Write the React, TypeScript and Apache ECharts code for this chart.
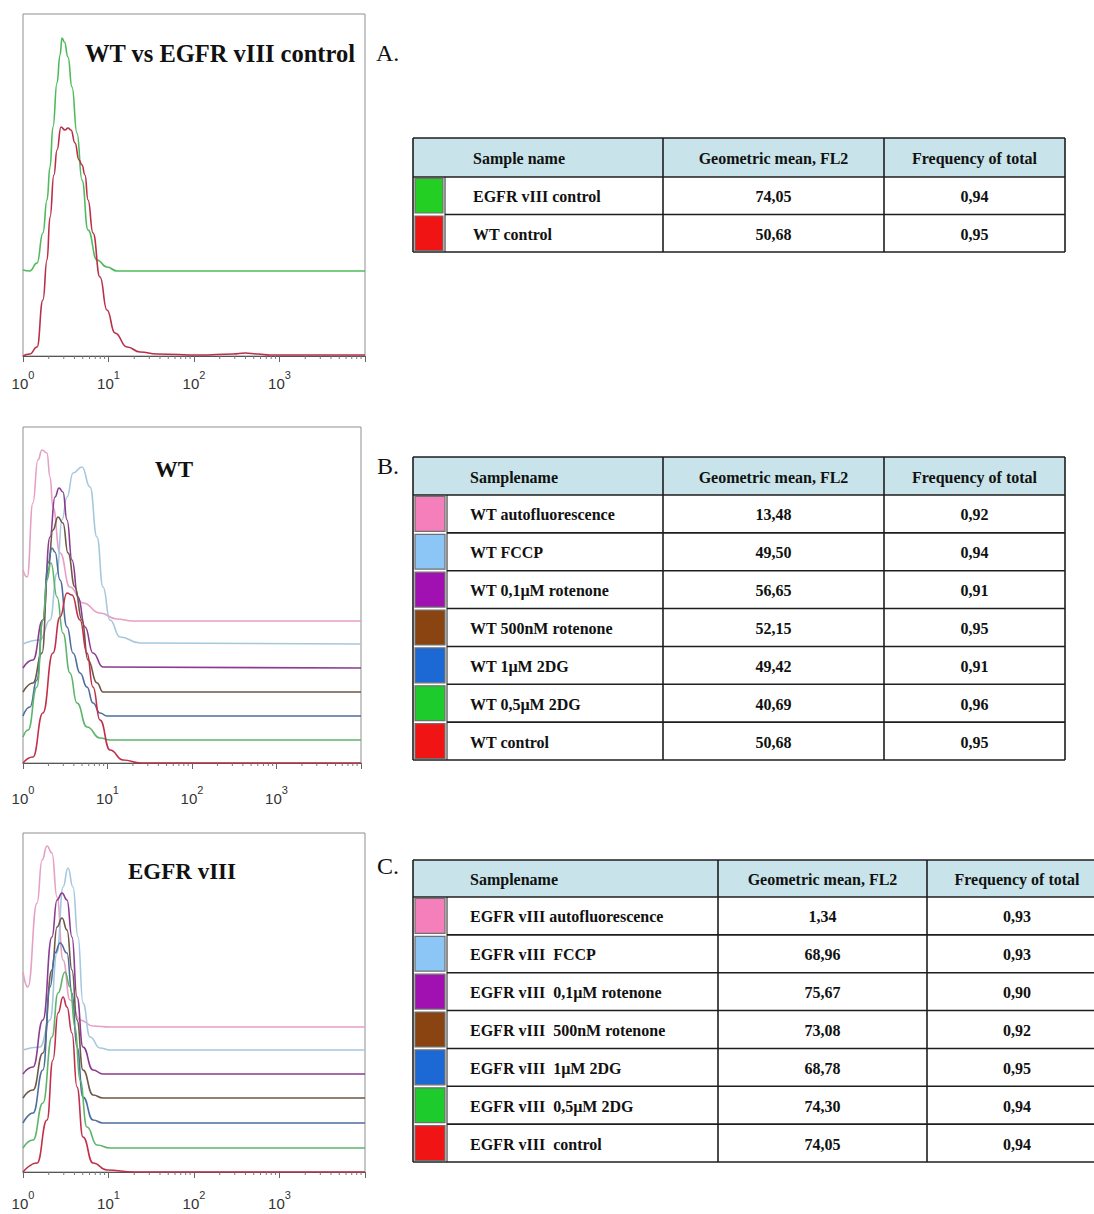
import React, { useEffect, useRef } from "react";
import * as echarts from "echarts";

const SERIF = '"Liberation Serif", "Times New Roman", serif';
const SANS = '"Liberation Sans", Arial, sans-serif';

// minor log ticks on the FL2 axis
const minorTicks = [2, 3, 4, 5, 6, 7, 8, 9, 20, 30, 40, 50, 60, 70, 80, 90, 200, 300, 400, 500, 600, 700, 800, 900, 2000, 3000, 4000, 5000, 6000, 7000, 8000, 9000];

// ---------- Panel A: WT vs EGFR vIII control (offset histograms, counts) ----------
const aEgfrControl = [[1, 86], [1.2, 85], [1.46, 93], [1.71, 123], [1.91, 156], [2.07, 189], [2.24, 229], [2.5, 273], [2.71, 301], [2.86, 318], [3.05, 314], [3.36, 299], [3.74, 269], [4.28, 223], [4.9, 176], [5.76, 126], [7.34, 96], [9.6, 89], [12.6, 85], [10000, 85]];
const aWtControl = [[1, 0], [1.2, 2], [1.46, 9], [1.71, 56], [1.91, 96], [2.07, 139], [2.3, 181], [2.5, 206], [2.78, 229], [3.1, 226], [3.36, 228], [3.64, 226], [4.06, 213], [4.52, 196], [4.9, 191], [5.31, 181], [5.76, 156], [6.59, 123], [7.95, 79], [9.6, 46], [11.9, 23], [16.5, 9], [23.4, 4], [36.9, 2], [117, 1], [286, 2], [395, 3], [561, 2], [774, 1], [10000, 1]];

// ---------- Panel B: WT ----------
const bAuto = [[1, 193], [1.12, 186], [1.31, 260], [1.5, 303], [1.68, 313], [1.92, 310], [2.09, 286], [2.26, 256], [2.74, 210], [3.6, 176], [5.13, 160], [8.15, 150], [12.9, 144], [20, 142], [10000, 142]];
const bFccp = [[1, 119], [1.59, 123], [2.09, 143], [2.53, 190], [2.89, 243], [3.32, 266], [3.91, 290], [4.99, 296], [6.21, 276], [7.51, 226], [8.85, 176], [10.7, 143], [14.1, 126], [24.2, 120], [10000, 119]];
const bRot01 = [[1, 95], [1.31, 103], [1.72, 143], [2.09, 226], [2.39, 266], [2.67, 275], [2.97, 271], [3.32, 243], [3.8, 203], [4.48, 166], [5.42, 136], [6.73, 110], [8.85, 96], [10000, 95]];
const bRot500 = [[1, 71], [1.31, 80], [1.68, 110], [1.98, 193], [2.26, 233], [2.6, 246], [2.97, 240], [3.41, 210], [4.12, 176], [4.99, 143], [5.88, 103], [7.51, 80], [8.85, 71], [10000, 71]];
const b2dg1 = [[1, 47], [1.21, 56], [1.46, 83], [1.72, 143], [1.98, 200], [2.2, 215], [2.39, 211], [2.74, 183], [3.32, 136], [3.91, 110], [4.73, 90], [5.72, 76], [6.73, 60], [8.15, 50], [9.86, 47], [10000, 47]];
const b2dg05 = [[1, 26], [1.15, 33], [1.46, 76], [1.72, 143], [1.92, 183], [2.14, 200], [2.53, 166], [2.97, 130], [3.6, 90], [4.35, 60], [5.72, 36], [8.15, 25], [10.7, 23], [10000, 23]];
const bControl = [[1, 0], [1.31, 6], [1.72, 50], [2.26, 110], [2.74, 146], [3.32, 170], [3.8, 168], [4.73, 143], [5.72, 110], [6.73, 76], [8.15, 43], [10.7, 13], [15.3, 3], [25, 0], [10000, 0]];

// ---------- Panel C: EGFR vIII ----------
const cAuto = [[1, 200], [1.14, 185], [1.46, 269], [1.67, 312], [1.91, 326], [2.18, 319], [2.5, 275], [2.94, 212], [3.55, 172], [4.64, 152], [6.59, 146], [10.4, 145], [10000, 145]];
const cFccp = [[1, 122], [1.58, 125], [2.07, 152], [2.5, 219], [2.94, 285], [3.36, 304], [3.84, 285], [4.4, 235], [5.03, 169], [6.08, 135], [7.95, 124], [10.4, 122], [10000, 122]];
const cRot01 = [[1, 98], [1.31, 105], [1.71, 152], [2.18, 235], [2.5, 272], [2.86, 279], [3.27, 272], [3.74, 235], [4.28, 175], [5.03, 125], [6.59, 102], [8.62, 98], [10000, 98]];
const cRot500 = [[1, 74], [1.31, 82], [1.71, 119], [2.18, 202], [2.5, 245], [2.86, 254], [3.27, 242], [3.74, 202], [4.28, 152], [5.03, 102], [6.59, 77], [8.62, 74], [10000, 74]];
const c2dg1 = [[1, 49], [1.31, 59], [1.71, 102], [2.07, 185], [2.37, 219], [2.71, 229], [3.27, 219], [3.74, 179], [4.28, 125], [5.03, 75], [6.59, 52], [8.62, 49], [10000, 49]];
const c2dg05 = [[1, 24], [1.31, 32], [1.71, 69], [2.18, 135], [2.57, 179], [3.1, 200], [3.55, 185], [4.06, 145], [4.64, 92], [5.6, 45], [7.34, 27], [10.4, 24], [10000, 24]];
const cControl = [[1, 0], [1.46, 9], [1.91, 52], [2.24, 112], [2.57, 159], [2.94, 175], [3.27, 165], [3.74, 139], [4.28, 85], [5.03, 35], [6.59, 9], [9.6, 2], [20, 0], [10000, 0]];

// ---------- Tables ----------
const headers = ["Geometric mean, FL2", "Frequency of total"];

const tableANames = ["EGFR vIII control", "WT control"];
const tableAColors = ["#22cf22", "#f11414"];
const tableAMeans = ["74,05", "50,68"];
const tableAFreqs = ["0,94", "0,95"];

const tableBNames = ["WT autofluorescence", "WT FCCP", "WT 0,1µM rotenone", "WT 500nM rotenone", "WT 1µM 2DG", "WT 0,5µM 2DG", "WT control"];
const tableBColors = ["#f47fba", "#8cc6f7", "#a111b1", "#8a4412", "#1c69d6", "#1dcb2c", "#f11414"];
const tableBMeans = ["13,48", "49,50", "56,65", "52,15", "49,42", "40,69", "50,68"];
const tableBFreqs = ["0,92", "0,94", "0,91", "0,95", "0,91", "0,96", "0,95"];

const tableCNames = ["EGFR vIII autofluorescence", "EGFR vIII  FCCP", "EGFR vIII  0,1µM rotenone", "EGFR vIII  500nM rotenone", "EGFR vIII  1µM 2DG", "EGFR vIII  0,5µM 2DG", "EGFR vIII  control"];
const tableCColors = ["#f47fba", "#8cc6f7", "#a111b1", "#8a4412", "#1c69d6", "#1dcb2c", "#f11414"];
const tableCMeans = ["1,34", "68,96", "75,67", "73,08", "68,78", "74,30", "74,05"];
const tableCFreqs = ["0,93", "0,93", "0,90", "0,92", "0,95", "0,94", "0,94"];

const curveColors = ["#e6a0c4", "#a6c8de", "#8c3c90", "#6e5848", "#4d6e9c", "#5db56a", "#c22f4a"];

function txt(x: number, y: number, text: string, font: string, align = "left") {
  return {
    type: "text",
    x,
    y,
    silent: true,
    style: { text, font, fill: "#111", textAlign: align, align, textVerticalAlign: "middle", verticalAlign: "middle" },
  };
}

function tableEls(cfg: any, names: string[], colors: string[], means: string[], freqs: string[]) {
  const els: any[] = [];
  const [c0, c1, c2, c3, c4] = cfg.cols;
  const hb = cfg.headerBottom;
  const n = names.length;
  const rh = (cfg.bottom - hb) / n;
  const line = (x1: number, y1: number, x2: number, y2: number, w = 1.6) => ({
    type: "line",
    silent: true,
    shape: { x1, y1, x2, y2 },
    style: { stroke: "#1e1e1e", lineWidth: w },
  });
  els.push({ type: "rect", silent: true, shape: { x: c0, y: cfg.top, width: c4 - c0, height: hb - cfg.top }, style: { fill: "#c8e4ea" } });
  for (let i = 0; i < n; i++) {
    els.push({
      type: "rect",
      silent: true,
      shape: { x: c0 + 2, y: hb + i * rh + 1.5, width: c1 - c0 - 4, height: rh - 3 },
      style: { fill: colors[i], stroke: "#707070", lineWidth: 1.2 },
    });
  }
  els.push(line(c0, cfg.top, c4, cfg.top));
  els.push(line(c0, cfg.bottom, c4, cfg.bottom));
  els.push(line(c0, cfg.top, c0, cfg.bottom));
  els.push(line(c4, cfg.top, c4, cfg.bottom));
  els.push(line(c0, hb, c4, hb));
  els.push(line(c2, cfg.top, c2, cfg.bottom));
  els.push(line(c3, cfg.top, c3, cfg.bottom));
  els.push(line(c1, hb, c1, cfg.bottom, 1));
  for (let i = 1; i < n; i++) els.push(line(c1, hb + i * rh, c4, hb + i * rh));
  const font = `bold 16px ${SERIF}`;
  const hy = (cfg.top + hb) / 2 + 1;
  els.push(txt(cfg.textX, hy, cfg.header0, font));
  els.push(txt((c2 + c3) / 2, hy, headers[0], font, "center"));
  els.push(txt((c3 + c4) / 2, hy, headers[1], font, "center"));
  for (let i = 0; i < n; i++) {
    const y = hb + (i + 0.5) * rh + 1;
    els.push(txt(cfg.textX, y, names[i], font));
    els.push(txt((c2 + c3) / 2, y, means[i], font, "center"));
    els.push(txt((c3 + c4) / 2, y, freqs[i], font, "center"));
  }
  return els;
}

function axisLabelFmt(v: number) {
  const e = Math.round(Math.log10(v));
  return e >= 4 ? "" : `{b|10}{s|${e}}`;
}

function xAxisFor(gridIndex: number, margin: number) {
  return {
    type: "log",
    logBase: 10,
    gridIndex,
    min: 1,
    max: 10000,
    axisLine: { show: true, lineStyle: { color: "#555", width: 1.2 } },
    axisTick: { show: true, length: 6, lineStyle: { color: "#666" } },
    splitLine: { show: false },
    axisLabel: {
      margin,
      formatter: axisLabelFmt,
      rich: {
        b: { fontSize: 15, fontFamily: SANS, color: "#333", padding: [7, 0, 0, 0], verticalAlign: "bottom" },
        s: { fontSize: 11, fontFamily: SANS, color: "#333", verticalAlign: "top" },
      },
    },
  };
}

function curve(name: string, data: number[][], color: string, idx: number) {
  return {
    type: "line",
    name,
    xAxisIndex: idx,
    yAxisIndex: idx,
    data,
    smooth: 0.5,
    smoothMonotone: "x",
    symbol: "none",
    silent: true,
    lineStyle: { color, width: 1.6 },
  };
}

function minorTickSeries(idx: number) {
  return {
    type: "custom",
    xAxisIndex: idx,
    yAxisIndex: idx,
    silent: true,
    data: minorTicks.map((v) => [v, 0]),
    renderItem: (_p: any, api: any) => {
      const pt = api.coord([api.value(0), 0]);
      return {
        type: "line",
        shape: { x1: pt[0], y1: pt[1], x2: pt[0], y2: pt[1] + 3 },
        style: { stroke: "#777", lineWidth: 1 },
      };
    },
  };
}

export default function App() {
  const ref = useRef<HTMLDivElement>(null);
  useEffect(() => {
    if (!ref.current) return;
    const chart = echarts.init(ref.current, undefined, { renderer: "svg" });
    const bNames = tableBNames;
    const cNames = tableCNames;
    const option: any = {
      animation: false,
      backgroundColor: "#fff",
      grid: [
        { left: 23, top: 14, width: 342, height: 342, show: true, borderColor: "#8f8f8f", borderWidth: 1 },
        { left: 23, top: 427, width: 338, height: 336, show: true, borderColor: "#8f8f8f", borderWidth: 1 },
        { left: 23, top: 833, width: 342, height: 339, show: true, borderColor: "#8f8f8f", borderWidth: 1 },
      ],
      xAxis: [xAxisFor(0, 13), xAxisFor(1, 21), xAxisFor(2, 17)],
      yAxis: [
        { type: "value", gridIndex: 0, min: 0, max: 342, show: false },
        { type: "value", gridIndex: 1, min: 0, max: 336, show: false },
        { type: "value", gridIndex: 2, min: 0, max: 339, show: false },
      ],
      series: [
        curve(tableANames[0], aEgfrControl, "#4fba5c", 0),
        curve(tableANames[1], aWtControl, "#b83048", 0),
        curve(bNames[0], bAuto, curveColors[0], 1),
        curve(bNames[1], bFccp, curveColors[1], 1),
        curve(bNames[2], bRot01, curveColors[2], 1),
        curve(bNames[3], bRot500, curveColors[3], 1),
        curve(bNames[4], b2dg1, curveColors[4], 1),
        curve(bNames[5], b2dg05, curveColors[5], 1),
        curve(bNames[6], bControl, curveColors[6], 1),
        curve(cNames[0], cAuto, curveColors[0], 2),
        curve(cNames[1], cFccp, curveColors[1], 2),
        curve(cNames[2], cRot01, curveColors[2], 2),
        curve(cNames[3], cRot500, curveColors[3], 2),
        curve(cNames[4], c2dg1, curveColors[4], 2),
        curve(cNames[5], c2dg05, curveColors[5], 2),
        curve(cNames[6], cControl, curveColors[6], 2),
        minorTickSeries(0),
        minorTickSeries(1),
        minorTickSeries(2),
      ],
      graphic: [
        txt(85, 53, "WT vs EGFR vIII control", `bold 24.5px ${SERIF}`),
        txt(376, 53, "A.", `24px ${SERIF}`),
        txt(174, 469, "WT", `bold 23px ${SERIF}`, "center"),
        txt(377, 466, "B.", `24px ${SERIF}`),
        txt(182, 871, "EGFR vIII", `bold 23px ${SERIF}`, "center"),
        txt(377, 866, "C.", `24px ${SERIF}`),
        ...tableEls({ cols: [413, 445, 663, 884, 1065], top: 138, headerBottom: 177, bottom: 252, textX: 473, header0: "Sample name" }, tableANames, tableAColors, tableAMeans, tableAFreqs),
        ...tableEls({ cols: [413, 447, 663, 884, 1065], top: 457, headerBottom: 495, bottom: 760, textX: 470, header0: "Samplename" }, tableBNames, tableBColors, tableBMeans, tableBFreqs),
        ...tableEls({ cols: [413, 447, 718, 927, 1107], top: 860, headerBottom: 897, bottom: 1162, textX: 470, header0: "Samplename" }, tableCNames, tableCColors, tableCMeans, tableCFreqs),
      ],
    };
    chart.setOption(option);
    return () => chart.dispose();
  }, []);
  return <div ref={ref} style={{ position: "absolute", left: 0, top: 0, width: 1094, height: 1214 }} />;
}
